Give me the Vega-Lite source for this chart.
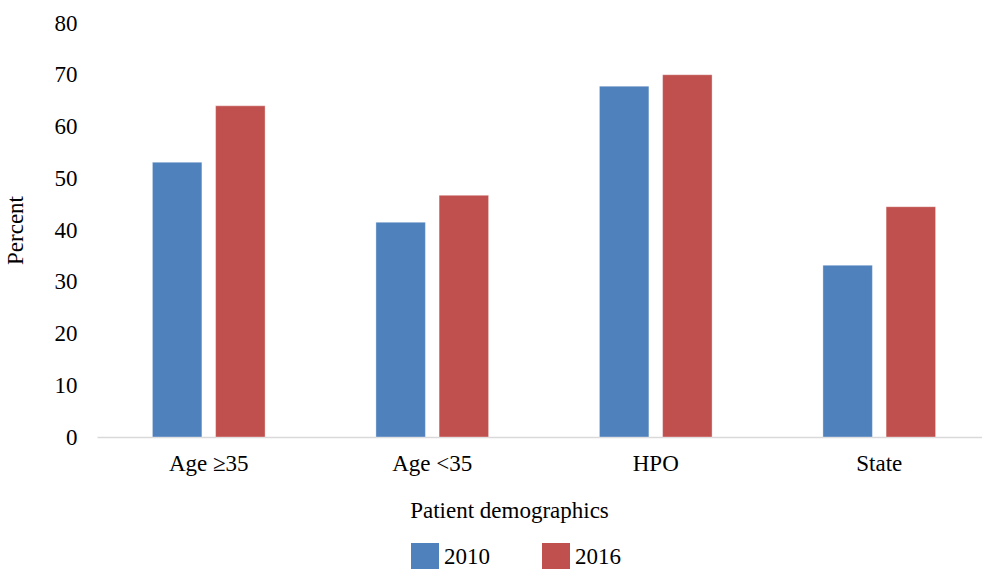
{
  "$schema": "https://vega.github.io/schema/vega-lite/v6.json",
  "autosize": "none",
  "width": 885,
  "height": 414,
  "padding": {"left": 97, "top": 23, "right": 0, "bottom": 132},
  "background": "#ffffff",
  "config": {
    "view": {"stroke": null},
    "font": "Liberation Serif",
    "axis": {"labelFont": "Liberation Serif", "titleFont": "Liberation Serif", "labelColor": "#000000", "titleColor": "#000000", "titleFontWeight": "normal"},
    "legend": {"labelFont": "Liberation Serif"}
  },
  "data": {
    "values": [
      {"group": "Age ≥35", "year": "2010", "percent": 53.1},
      {"group": "Age ≥35", "year": "2016", "percent": 64.0},
      {"group": "Age <35", "year": "2010", "percent": 41.5},
      {"group": "Age <35", "year": "2016", "percent": 46.7},
      {"group": "HPO", "year": "2010", "percent": 67.8},
      {"group": "HPO", "year": "2016", "percent": 70.0},
      {"group": "State", "year": "2010", "percent": 33.2},
      {"group": "State", "year": "2016", "percent": 44.5}
    ]
  },
  "mark": {"type": "bar", "stroke": "#ffffff", "strokeWidth": 0.6, "strokeOpacity": 0.6},
  "encoding": {
    "x": {
      "field": "group",
      "type": "nominal",
      "sort": ["Age ≥35", "Age <35", "HPO", "State"],
      "scale": {"range": [0, 894], "paddingInner": 0, "paddingOuter": 0},
      "axis": {
        "title": "Patient demographics",
        "labelAngle": 0,
        "labelFontSize": 23,
        "labelPadding": 15,
        "ticks": false,
        "domainColor": "#d9d9d9",
        "domainWidth": 1.5,
        "titleFontSize": 23,
        "titleX": 412,
        "titleY": 80,
        "titleBaseline": "alphabetic",
        "titleAnchor": "middle"
      }
    },
    "xOffset": {
      "field": "year",
      "type": "nominal",
      "scale": {"paddingInner": 0.217, "paddingOuter": 0.877}
    },
    "y": {
      "field": "percent",
      "type": "quantitative",
      "scale": {"domain": [0, 80], "nice": false},
      "axis": {
        "title": "Percent",
        "values": [0, 10, 20, 30, 40, 50, 60, 70, 80],
        "grid": false,
        "domain": false,
        "ticks": false,
        "labelFontSize": 23,
        "labelPadding": 20,
        "titleFontSize": 23,
        "titlePadding": 27
      }
    },
    "color": {
      "field": "year",
      "type": "nominal",
      "scale": {"domain": ["2010", "2016"], "range": ["#4f81bd", "#c0504d"]},
      "legend": {
        "title": null,
        "orient": "none",
        "direction": "horizontal",
        "legendX": 314,
        "legendY": 520,
        "symbolType": "square",
        "symbolSize": 784,
        "symbolStrokeWidth": 0,
        "labelFontSize": 23,
        "labelOffset": 5,
        "columnPadding": 52
      }
    }
  }
}
